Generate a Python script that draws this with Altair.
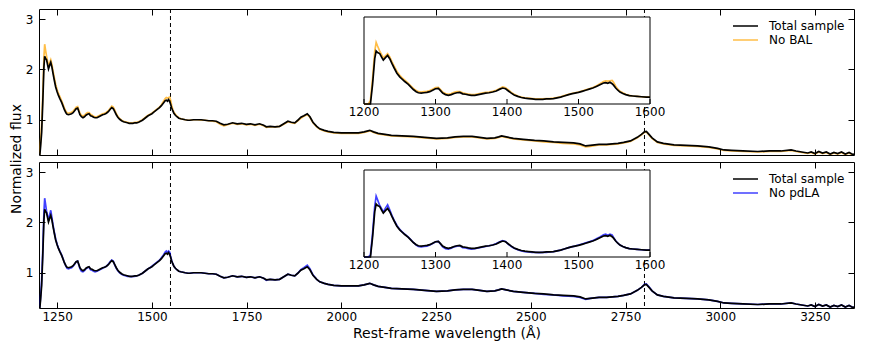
import altair as alt
import pandas as pd

# ---------------- data ----------------
wave = (
    [1200, 1203, 1206, 1209, 1212, 1215, 1217, 1219, 1222, 1225, 1227, 1230, 1233, 1236, 1239, 1242, 1246, 1250, 1253, 1257, 1262, 1266, 1269, 1273, 1276, 1280]
    + [1284, 1288, 1292, 1296, 1300, 1304, 1307, 1310, 1314, 1318, 1322, 1326, 1330, 1334, 1338, 1342, 1346, 1350, 1355, 1360, 1365, 1370, 1375, 1380, 1385, 1390, 1394, 1398]
    + [1402, 1406, 1410, 1415, 1420, 1425, 1430, 1435, 1440, 1445, 1450, 1455, 1460, 1465, 1470, 1475, 1480, 1485, 1490, 1495, 1500, 1505, 1510, 1515, 1520, 1525, 1530, 1535, 1538, 1541, 1544, 1547, 1549, 1552, 1555, 1558, 1562, 1566, 1571, 1576, 1582, 1588, 1595, 1600]
    + [1610, 1620, 1630, 1640, 1650, 1660, 1670, 1680, 1690, 1700, 1713, 1725, 1737, 1749, 1760, 1772, 1784, 1795, 1802, 1812, 1825, 1837, 1848, 1859, 1868, 1877, 1885, 1893, 1901, 1910, 1917, 1925, 1935, 1943, 1955, 1965, 1980, 2000]
    + [2020, 2045, 2060, 2075, 2085, 2097, 2115, 2132, 2160, 2190, 2220, 2251, 2280, 2300, 2322, 2345, 2365, 2384, 2405, 2415, 2423, 2435, 2454, 2480, 2510, 2534, 2560, 2585, 2613, 2630, 2645, 2657, 2680, 2700]
    + [2715, 2730, 2745, 2763, 2781, 2792, 2800, 2805, 2812, 2820, 2834, 2850, 2878, 2910, 2940, 2970, 2993, 3010, 3030, 3060, 3099, 3130, 3160, 3187, 3200, 3215, 3231, 3240, 3250, 3260, 3270, 3280, 3290, 3300, 3310, 3320, 3330, 3340, 3350, 3360]
)

total_flux = (
    [0.05, 0.20, 0.45, 0.75, 1.35, 2.05, 2.26, 2.22, 2.19, 2.08, 2.01, 2.08, 2.14, 2.05, 1.92, 1.80, 1.65, 1.55, 1.49, 1.42, 1.34, 1.26, 1.20, 1.14, 1.11, 1.10]
    + [1.11, 1.12, 1.14, 1.18, 1.22, 1.23, 1.17, 1.10, 1.06, 1.04, 1.06, 1.09, 1.11, 1.12, 1.08, 1.07, 1.05, 1.04, 1.04, 1.06, 1.08, 1.10, 1.11, 1.13, 1.16, 1.21, 1.24, 1.22]
    + [1.16, 1.10, 1.05, 1.01, 0.98, 0.96, 0.95, 0.94, 0.93, 0.93, 0.93, 0.94, 0.94, 0.95, 0.97, 0.99, 1.02, 1.05, 1.08, 1.10, 1.12, 1.15, 1.18, 1.21, 1.24, 1.28, 1.33, 1.38, 1.39, 1.37, 1.40, 1.36, 1.32, 1.24, 1.18, 1.13, 1.09, 1.06, 1.03, 1.02, 1.01, 1.00, 0.99, 0.99]
    + [1.00, 1.00, 1.00, 0.99, 0.98, 0.98, 0.97, 0.93, 0.90, 0.91, 0.94, 0.92, 0.93, 0.91, 0.92, 0.90, 0.92, 0.89, 0.86, 0.87, 0.86, 0.87, 0.92, 0.97, 0.95, 0.94, 0.99, 1.05, 1.08, 1.12, 1.06, 0.95, 0.87, 0.82, 0.79, 0.77, 0.75, 0.74]
    + [0.74, 0.74, 0.76, 0.79, 0.76, 0.73, 0.71, 0.69, 0.68, 0.67, 0.65, 0.63, 0.64, 0.66, 0.67, 0.67, 0.65, 0.63, 0.64, 0.66, 0.68, 0.66, 0.63, 0.61, 0.59, 0.58, 0.56, 0.55, 0.54, 0.52, 0.48, 0.49, 0.51, 0.51]
    + [0.52, 0.53, 0.55, 0.58, 0.65, 0.71, 0.76, 0.77, 0.71, 0.64, 0.56, 0.53, 0.50, 0.49, 0.48, 0.46, 0.43, 0.40, 0.39, 0.38, 0.37, 0.38, 0.38, 0.40, 0.38, 0.36, 0.34, 0.36, 0.33, 0.37, 0.34, 0.36, 0.32, 0.35, 0.33, 0.36, 0.32, 0.35, 0.31, 0.34]
)

nobal_flux = (
    [0.05, 0.25, 0.55, 0.90, 1.50, 2.25, 2.50, 2.40, 2.26, 2.15, 2.07, 2.13, 2.19, 2.10, 1.97, 1.85, 1.70, 1.59, 1.53, 1.46, 1.37, 1.29, 1.23, 1.17, 1.14, 1.13]
    + [1.14, 1.15, 1.17, 1.21, 1.25, 1.26, 1.20, 1.13, 1.09, 1.07, 1.09, 1.12, 1.14, 1.14, 1.11, 1.09, 1.07, 1.06, 1.06, 1.08, 1.10, 1.12, 1.13, 1.15, 1.18, 1.23, 1.27, 1.25]
    + [1.19, 1.12, 1.07, 1.02, 0.99, 0.97, 0.96, 0.95, 0.94, 0.94, 0.94, 0.95, 0.95, 0.96, 0.98, 1.00, 1.03, 1.06, 1.09, 1.11, 1.13, 1.16, 1.19, 1.22, 1.25, 1.30, 1.36, 1.42, 1.44, 1.43, 1.44, 1.45, 1.40, 1.29, 1.21, 1.15, 1.11, 1.07, 1.04, 1.02, 1.01, 1.00, 0.99, 0.99]
    + [1.00, 1.00, 0.99, 0.99, 0.98, 0.97, 0.96, 0.91, 0.88, 0.90, 0.93, 0.91, 0.92, 0.90, 0.91, 0.89, 0.91, 0.88, 0.85, 0.86, 0.86, 0.87, 0.91, 0.96, 0.94, 0.93, 0.98, 1.03, 1.07, 1.10, 1.05, 0.94, 0.86, 0.81, 0.78, 0.76, 0.74, 0.73]
    + [0.73, 0.73, 0.75, 0.78, 0.75, 0.72, 0.70, 0.68, 0.67, 0.66, 0.64, 0.62, 0.63, 0.65, 0.66, 0.66, 0.64, 0.62, 0.63, 0.65, 0.67, 0.65, 0.62, 0.60, 0.58, 0.56, 0.55, 0.53, 0.52, 0.50, 0.46, 0.47, 0.50, 0.50]
    + [0.51, 0.52, 0.54, 0.57, 0.64, 0.70, 0.75, 0.76, 0.70, 0.63, 0.55, 0.52, 0.49, 0.48, 0.47, 0.45, 0.42, 0.39, 0.38, 0.37, 0.36, 0.37, 0.37, 0.39, 0.37, 0.35, 0.33, 0.35, 0.32, 0.36, 0.33, 0.35, 0.31, 0.34, 0.32, 0.35, 0.31, 0.34, 0.30, 0.33]
)

nopdla_flux = (
    [0.05, 0.22, 0.50, 0.85, 1.45, 2.20, 2.48, 2.38, 2.22, 2.12, 2.04, 2.15, 2.24, 2.10, 1.95, 1.82, 1.67, 1.56, 1.50, 1.43, 1.35, 1.27, 1.20, 1.13, 1.09, 1.08]
    + [1.09, 1.10, 1.13, 1.17, 1.22, 1.23, 1.16, 1.08, 1.03, 1.02, 1.04, 1.08, 1.10, 1.11, 1.06, 1.05, 1.03, 1.02, 1.03, 1.05, 1.07, 1.09, 1.11, 1.13, 1.17, 1.22, 1.25, 1.23]
    + [1.15, 1.09, 1.04, 1.00, 0.97, 0.95, 0.94, 0.93, 0.93, 0.92, 0.93, 0.93, 0.94, 0.95, 0.97, 0.99, 1.02, 1.05, 1.08, 1.10, 1.13, 1.16, 1.19, 1.22, 1.25, 1.30, 1.35, 1.41, 1.43, 1.40, 1.43, 1.41, 1.34, 1.25, 1.18, 1.13, 1.09, 1.06, 1.03, 1.02, 1.01, 1.00, 0.99, 0.99]
    + [1.00, 1.00, 1.00, 0.99, 0.98, 0.98, 0.97, 0.93, 0.90, 0.91, 0.94, 0.92, 0.93, 0.91, 0.92, 0.90, 0.92, 0.89, 0.85, 0.87, 0.86, 0.87, 0.92, 0.97, 0.95, 0.94, 0.99, 1.06, 1.10, 1.15, 1.08, 0.96, 0.87, 0.82, 0.79, 0.77, 0.75, 0.74]
    + [0.74, 0.74, 0.76, 0.79, 0.76, 0.73, 0.71, 0.69, 0.68, 0.67, 0.65, 0.63, 0.64, 0.66, 0.67, 0.67, 0.65, 0.63, 0.64, 0.66, 0.68, 0.66, 0.63, 0.61, 0.59, 0.57, 0.56, 0.54, 0.53, 0.51, 0.47, 0.49, 0.51, 0.51]
    + [0.52, 0.53, 0.55, 0.58, 0.65, 0.71, 0.77, 0.78, 0.72, 0.64, 0.56, 0.53, 0.50, 0.49, 0.48, 0.46, 0.43, 0.40, 0.39, 0.38, 0.37, 0.38, 0.38, 0.40, 0.38, 0.36, 0.34, 0.36, 0.33, 0.37, 0.34, 0.36, 0.32, 0.35, 0.33, 0.36, 0.32, 0.35, 0.31, 0.34]
)

line_waves = [1549, 2800]                       # CIV and MgII markers
x_ticks = [1250, 1500, 1750, 2000, 2250, 2500, 2750, 3000, 3250]
y_ticks = [1, 2, 3]
inset_ticks = [1200, 1300, 1400, 1500, 1600]
inset_x_range = [1200, 1600]
inset_y_range = [0.8, 3.2]

assert len(wave) == len(total_flux) == len(nobal_flux) == len(nopdla_flux)

df = pd.DataFrame({"wave": wave, "total": total_flux, "nobal": nobal_flux, "nopdla": nopdla_flux})
vl_df = pd.DataFrame({"wave": line_waves})
frame_df = pd.DataFrame({"x0": [inset_x_range[0]], "x1": [inset_x_range[1]],
                         "y0": [inset_y_range[0]], "y1": [inset_y_range[1]]})
itick_df = pd.DataFrame({"t": inset_ticks})

# ---------------- layout / style ----------------
W, H = 815, 146
GAP = 7
TICK = 6
FONT = "DejaVu Sans"
XDOM = [1202, 3353]
YDOM = [0.3, 3.2]
INSET_X_PX = [325, 611]
INSET_Y_PX = [95, 8]
LW = 1.7


def panel(col, label, color, is_bottom):
    xs = alt.Scale(domain=XDOM, nice=False, zero=False)
    ys = alt.Scale(domain=YDOM, nice=False, zero=False)

    bottom_kw = dict(orient="bottom", values=x_ticks, tickSize=TICK, offset=-TICK, domain=False,
                     grid=False, zindex=1, format="d", labelPadding=3)
    if is_bottom:
        bottom_axis = alt.Axis(labels=True, title="Rest-frame wavelength (Å)", titlePadding=4, **bottom_kw)
    else:
        bottom_axis = alt.Axis(labels=False, title=None, **bottom_kw)
    top_axis = alt.Axis(orient="top", values=x_ticks, tickSize=TICK, offset=-TICK, domain=False,
                        grid=False, zindex=1, labels=False, title=None)
    left_kw = dict(orient="left", values=y_ticks, tickSize=TICK, offset=-TICK, domain=False,
                   grid=False, zindex=1, format="d", labelPadding=6)
    if is_bottom:
        left_axis = alt.Axis(title=None, **left_kw)
    else:
        left_axis = alt.Axis(title="Normalized flux", titleAngle=270, titleAlign="center",
                             titleBaseline="alphabetic", titleX=-25, titleY=(2 * H + GAP) / 2, **left_kw)
    right_axis = alt.Axis(orient="right", values=y_ticks, tickSize=TICK, offset=-TICK, domain=False,
                          grid=False, zindex=1, labels=False, title=None)

    cscale = alt.Scale(domain=["Total sample", label], range=["black", color])
    leg = alt.Legend(title=None, orient="none", legendX=693, legendY=11, symbolType="stroke",
                     symbolSize=625, symbolStrokeWidth=1.5, labelFontSize=12, labelFont=FONT,
                     labelOffset=10, clipHeight=12, rowPadding=2, padding=0, labelColor="black")

    rules = alt.Chart(vl_df).mark_rule(color="black", strokeDash=[4, 3], strokeWidth=1).encode(
        x=alt.X("wave:Q", scale=xs, axis=bottom_axis)
    )
    sub = alt.Chart(df).transform_calculate(series=f"'{label}'").mark_line(strokeWidth=LW, clip=True).encode(
        x=alt.X("wave:Q", scale=xs, axis=top_axis),
        y=alt.Y(f"{col}:Q", scale=ys, axis=left_axis),
        color=alt.Color("series:N", scale=cscale, legend=leg),
    )
    tot = alt.Chart(df).transform_calculate(series="'Total sample'").mark_line(strokeWidth=LW, clip=True).encode(
        x=alt.X("wave:Q", scale=xs, axis=None),
        y=alt.Y("total:Q", scale=ys, axis=right_axis),
        color=alt.Color("series:N", scale=cscale, legend=leg),
    )
    main = alt.layer(rules, sub, tot).resolve_axis(x="independent", y="independent")

    xi = alt.Scale(domain=inset_x_range, range=INSET_X_PX, nice=False, zero=False)
    yi = alt.Scale(domain=inset_y_range, range=INSET_Y_PX, nice=False, zero=False, clamp=True)
    frame = alt.Chart(frame_df).mark_rect(fill="white", stroke="black", strokeWidth=1).encode(
        x=alt.X("x0:Q", scale=xi, axis=None), x2="x1:Q",
        y=alt.Y("y0:Q", scale=yi, axis=None), y2="y1:Q",
    )
    idf = alt.Chart(df).transform_filter("datum.wave <= 1600")
    isub = idf.mark_line(strokeWidth=LW, color=color).encode(
        x=alt.X("wave:Q", scale=xi, axis=None), y=alt.Y(f"{col}:Q", scale=yi, axis=None))
    itot = idf.mark_line(strokeWidth=LW, color="black").encode(
        x=alt.X("wave:Q", scale=xi, axis=None), y=alt.Y("total:Q", scale=yi, axis=None))
    iticks = alt.Chart(itick_df).mark_rule(color="black", strokeWidth=1).encode(
        x=alt.X("t:Q", scale=xi, axis=None),
        y=alt.value(INSET_Y_PX[0] - 5), y2=alt.value(INSET_Y_PX[0]))
    ilabels = alt.Chart(itick_df).mark_text(font=FONT, fontSize=12, baseline="top", color="black").encode(
        x=alt.X("t:Q", scale=xi, axis=None),
        y=alt.value(INSET_Y_PX[0] + 3),
        text=alt.Text("t:Q", format="d"))
    inset = alt.layer(frame, isub, itot, iticks, ilabels)

    return alt.layer(main, inset).resolve_scale(x="independent", y="independent").properties(width=W, height=H)


top = panel("nobal", "No BAL", "rgba(255,165,0,0.72)", False)
bottom = panel("nopdla", "No pdLA", "rgba(0,0,255,0.75)", True)

chart = (
    alt.vconcat(top, bottom, spacing=GAP, bounds="flush")
    .resolve_scale(color="independent")
    .properties(padding=0)
    .configure_view(stroke="black", strokeWidth=1)
    .configure_axis(labelFont=FONT, labelFontSize=12, labelColor="black", tickColor="black",
                    titleFont=FONT, titleFontSize=14, titleFontWeight="normal", titleColor="black")
)

chart.save("out.html", embed_options={"renderer": "svg", "actions": False})
